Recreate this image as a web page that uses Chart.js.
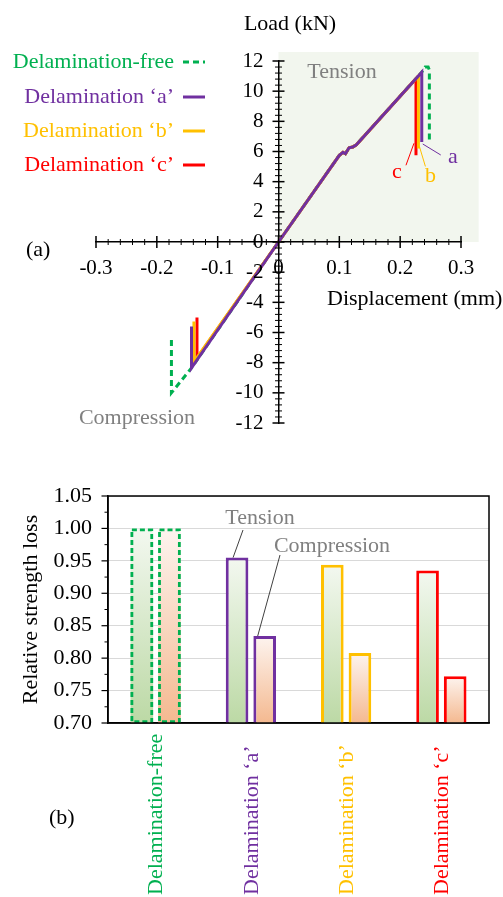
<!DOCTYPE html>
<html>
<head>
<meta charset="utf-8">
<script src="https://cdn.jsdelivr.net/npm/chart.js@4.4.0/dist/chart.umd.min.js"></script>
<style>
  html, body { margin: 0; padding: 0; background: #fff; }
  canvas { display: block; }
</style>
</head>
<body>
<canvas id="loadChart" width="503" height="450"></canvas>
<canvas id="lossChart" width="503" height="447"></canvas>
<script>
const SERIF = "'Liberation Serif', 'Times New Roman', serif";
Chart.defaults.font.family = SERIF;
Chart.defaults.color = '#000';

// (a) load-displacement curves
const seriesNames = ['Delamination-free', 'Delamination ‘a’', 'Delamination ‘b’', 'Delamination ‘c’'];
const seriesColors = ['#00b050', '#7030a0', '#ffc000', '#ff0000'];

const freeDisp = [-0.176, -0.176, -0.143, 0, 0.100, 0.106, 0.110, 0.116, 0.122, 0.128, 0.2355, 0.241, 0.246, 0.248, 0.248];
const freeLoad = [-6.5, -10.0, -8.35, 0, 5.75, 5.95, 5.85, 6.25, 6.3, 6.45, 11.26, 11.6, 11.6, 11.4, 6.75];
const aDisp = [-0.143, -0.143, 0, 0.100, 0.106, 0.110, 0.116, 0.122, 0.128, 0.2355, 0.2355];
const aLoad = [-5.6, -8.35, 0, 5.75, 5.95, 5.85, 6.25, 6.3, 6.45, 11.26, 6.63];
const bDisp = [-0.139, -0.139, 0, 0.100, 0.106, 0.110, 0.116, 0.122, 0.128, 0.230, 0.230];
const bLoad = [-5.27, -7.95, 0, 5.75, 5.95, 5.85, 6.25, 6.3, 6.45, 11.0, 6.2];
const cDisp = [-0.134, -0.134, 0, 0.100, 0.106, 0.110, 0.116, 0.122, 0.128, 0.226, 0.226];
const cLoad = [-5.0, -7.7, 0, 5.75, 5.95, 5.85, 6.25, 6.3, 6.45, 10.83, 5.75];

// (b) relative strength loss
const groups = ['Delamination-free', 'Delamination ‘a’', 'Delamination ‘b’', 'Delamination ‘c’'];
const tension = [1.00, 0.955, 0.944, 0.935];
const compression = [1.00, 0.834, 0.808, 0.772];

function toPoints(xs, ys) {
    return xs.map((x, i) => ({ x, y: ys[i] }));
}

const curves = [
    { disp: freeDisp, load: freeLoad, dash: [6, 4], order: 4 },
    { disp: aDisp, load: aLoad, dash: [], order: 1 },
    { disp: bDisp, load: bLoad, dash: [], order: 2 },
    { disp: cDisp, load: cLoad, dash: [], order: 3 }
];

function text(ctx, str, x, y, color, size, align) {
    ctx.save();
    ctx.font = size + 'px ' + SERIF;
    ctx.fillStyle = color;
    ctx.textAlign = align || 'center';
    ctx.textBaseline = 'middle';
    ctx.fillText(str, x, y);
    ctx.restore();
}

function line(ctx, x1, y1, x2, y2, color, width, dash) {
    ctx.save();
    ctx.strokeStyle = color;
    ctx.lineWidth = width;
    ctx.setLineDash(dash || []);
    ctx.beginPath();
    ctx.moveTo(x1, y1);
    ctx.lineTo(x2, y2);
    ctx.stroke();
    ctx.restore();
}

const loadDecor = {
    id: 'loadDecor',
    beforeDraw(chart) {
        const { ctx, scales: { x, y } } = chart;
        const x0 = x.getPixelForValue(0), x1 = x.getPixelForValue(0.329);
        const y0 = y.getPixelForValue(0), y1 = y.getPixelForValue(12.6);
        ctx.save();
        ctx.fillStyle = '#f2f6ee';
        ctx.fillRect(x0, y1, x1 - x0, y0 - y1);
        ctx.restore();
    },
    afterDraw(chart) {
        const { ctx, scales: { x, y } } = chart;
        const ox = x.getPixelForValue(0);
        const oy = y.getPixelForValue(0);

        // crossing tick marks, major and minor, plus y labels left of the axis
        const yt = y.ticks.map(t => y.getPixelForValue(t.value));
        yt.forEach((p, i) => {
            line(ctx, ox - 6, p, ox + 6, p, '#000', 1.5);
            text(ctx, y.ticks[i].label, ox - 15, p, '#000', 21, 'right');
            if (i < yt.length - 1) {
                for (let k = 1; k < 5; k++) {
                    const q = p + (yt[i + 1] - p) * k / 5;
                    line(ctx, ox - 3.5, q, ox + 3.5, q, '#000', 1);
                }
            }
        });
        const xt = x.ticks.map(t => x.getPixelForValue(t.value));
        xt.forEach((p, i) => {
            line(ctx, p, oy - 6, p, oy + 6, '#000', 1.5);
            if (i < xt.length - 1) {
                for (let k = 1; k < 5; k++) {
                    const q = p + (xt[i + 1] - p) * k / 5;
                    line(ctx, q, oy - 3, q, oy + 3, '#000', 1);
                }
            }
        });

        text(ctx, 'Load (kN)', 290, 24, '#000', 22);
        text(ctx, 'Displacement (mm)', 327, 299, '#000', 22, 'left');
        text(ctx, '(a)', 26, 250, '#000', 22, 'left');
        text(ctx, 'Tension', 342, 72, '#808080', 22);
        text(ctx, 'Compression', 137, 418, '#808080', 22);

        // legend: text, then line sample
        const rows = [62, 97, 131, 165];
        curves.forEach((c, i) => {
            text(ctx, seriesNames[i], 174, rows[i], seriesColors[i], 22, 'right');
            line(ctx, 183, rows[i], 205, rows[i], seriesColors[i], 3, c.dash);
        });

        // drop labels a, b, c
        const tip = (d, l) => ({ px: x.getPixelForValue(d[d.length - 1]), py: y.getPixelForValue(l[l.length - 1]) });
        const ta = tip(aDisp, aLoad), tb = tip(bDisp, bLoad), tc = tip(cDisp, cLoad);
        line(ctx, ta.px + 1, ta.py + 2, ta.px + 19, ta.py + 13, seriesColors[1], 1);
        text(ctx, 'a', ta.px + 31, ta.py + 15, seriesColors[1], 22);
        line(ctx, tb.px + 1, tb.py - 2, tb.px + 7, tb.py + 18, seriesColors[2], 1);
        text(ctx, 'b', tb.px + 12, tb.py + 28, seriesColors[2], 22);
        line(ctx, tc.px - 2, tc.py - 12, tc.px - 10, tc.py + 10, seriesColors[3], 1);
        text(ctx, 'c', tc.px - 19, tc.py + 17, seriesColors[3], 22);
    }
};

new Chart(document.getElementById('loadChart'), {
    type: 'scatter',
    data: {
        datasets: curves.map((c, i) => ({
            label: seriesNames[i],
            data: toPoints(c.disp, c.load),
            showLine: true,
            borderColor: seriesColors[i],
            backgroundColor: seriesColors[i],
            borderWidth: 3,
            borderDash: c.dash,
            pointRadius: 0,
            tension: 0,
            order: c.order
        }))
    },
    options: {
        responsive: false,
        animation: false,
        layout: { padding: { left: 96, right: 42, top: 61, bottom: 27 } },
        plugins: { legend: { display: false }, tooltip: { enabled: false } },
        scales: {
            x: {
                type: 'linear',
                position: { y: 0 },
                min: -0.3, max: 0.3,
                ticks: { stepSize: 0.1, font: { size: 21 }, padding: 14, maxRotation: 0, autoSkip: false },
                grid: { display: false, drawTicks: false },
                border: { display: true, color: '#000', width: 1.5 }
            },
            y: {
                type: 'linear',
                position: { x: 0 },
                min: -12, max: 12,
                ticks: { stepSize: 2, display: false, autoSkip: false },
                grid: { display: false, drawTicks: false },
                border: { display: true, color: '#000', width: 1.5 }
            }
        }
    },
    plugins: [loadDecor]
});

// bar chart
function barFill(c, top, bottom) {
    const chart = c.chart;
    if (!chart.chartArea || !c.parsed) return bottom;
    const ys = chart.scales.y;
    const g = chart.ctx.createLinearGradient(0, ys.getPixelForValue(c.parsed.y), 0, ys.getPixelForValue(ys.min));
    g.addColorStop(0, top);
    g.addColorStop(1, bottom);
    return g;
}

const lossDecor = {
    id: 'lossDecor',
    afterDatasetsDraw(chart) {
        const { ctx, chartArea: a } = chart;
        chart.data.datasets.forEach((ds, i) => {
            const el = chart.getDatasetMeta(i).data[0];
            const { x, y, width } = el.getProps(['x', 'y', 'width'], true);
            const base = a.bottom;
            ctx.save();
            ctx.strokeStyle = seriesColors[0];
            ctx.lineWidth = 2.8;
            ctx.setLineDash([5, 3]);
            ctx.strokeRect(x - width / 2 + 1.4, y + 1.4, width - 2.8, base - y - 2.8);
            ctx.restore();
        });
    },
    afterDraw(chart) {
        const { ctx, chartArea: a, scales: { x, y } } = chart;
        ctx.save();
        ctx.strokeStyle = '#000';
        ctx.lineWidth = 1.5;
        ctx.strokeRect(a.left, a.top, a.right - a.left, a.bottom - a.top);
        ctx.restore();

        const yt = y.ticks.map(t => y.getPixelForValue(t.value));
        yt.forEach((p, i) => {
            line(ctx, a.left - 6.5, p, a.left, p, '#000', 1.2);
            if (i < yt.length - 1) {
                const q = (p + yt[i + 1]) / 2;
                line(ctx, a.left - 3.5, q, a.left, q, '#000', 1);
            }
        });

        groups.forEach((g, i) => {
            const px = x.getPixelForTick(i);
            ctx.save();
            ctx.translate(px, 445);
            ctx.rotate(-Math.PI / 2);
            ctx.font = '22px ' + SERIF;
            ctx.fillStyle = seriesColors[i];
            ctx.textAlign = 'left';
            ctx.textBaseline = 'middle';
            ctx.fillText(g, 0, 1);
            ctx.restore();
        });

        const tBar = chart.getDatasetMeta(0).data[1];
        const cBar = chart.getDatasetMeta(1).data[1];
        text(ctx, 'Tension', 260, 68, '#808080', 22);
        line(ctx, 243, 80, tBar.x - 4, tBar.y, '#404040', 1);
        text(ctx, 'Compression', 332, 96, '#808080', 22);
        line(ctx, 280, 105, cBar.x - 7, cBar.y, '#404040', 1);
        text(ctx, '(b)', 49, 368, '#000', 22, 'left');
    }
};

new Chart(document.getElementById('lossChart'), {
    type: 'bar',
    data: {
        labels: groups,
        datasets: [
            {
                label: 'Tension',
                data: tension,
                backgroundColor: c => barFill(c, '#f3f8f0', '#bcd9a5'),
                borderColor: seriesColors,
                borderWidth: c => c.dataIndex === 0 ? 0 : 3,
                borderSkipped: false,
                categoryPercentage: 0.58,
                barPercentage: 0.82
            },
            {
                label: 'Compression',
                data: compression,
                backgroundColor: c => barFill(c, '#fdf4ef', '#f4b990'),
                borderColor: seriesColors,
                borderWidth: c => c.dataIndex === 0 ? 0 : 3,
                borderSkipped: false,
                categoryPercentage: 0.58,
                barPercentage: 0.82
            }
        ]
    },
    options: {
        responsive: false,
        animation: false,
        layout: { padding: { left: 0, right: 14, top: 46, bottom: 174 } },
        plugins: { legend: { display: false }, tooltip: { enabled: false } },
        scales: {
            x: {
                ticks: { display: false },
                grid: { display: false, drawTicks: false },
                border: { display: true, color: '#000', width: 1.5 },
                afterFit: s => { s.height = 0; }
            },
            y: {
                min: 0.70, max: 1.05,
                ticks: { stepSize: 0.05, callback: v => v.toFixed(2), font: { size: 22 }, padding: 16 },
                grid: { color: '#d9d9d9', lineWidth: 1, drawTicks: false },
                border: { display: true, color: '#000', width: 1.5 },
                title: { display: true, text: 'Relative strength loss', font: { size: 22 }, padding: { top: 18, bottom: 0 } },
                afterFit: s => { s.width = 108; }
            }
        }
    },
    plugins: [lossDecor]
});
</script>
</body>
</html>
